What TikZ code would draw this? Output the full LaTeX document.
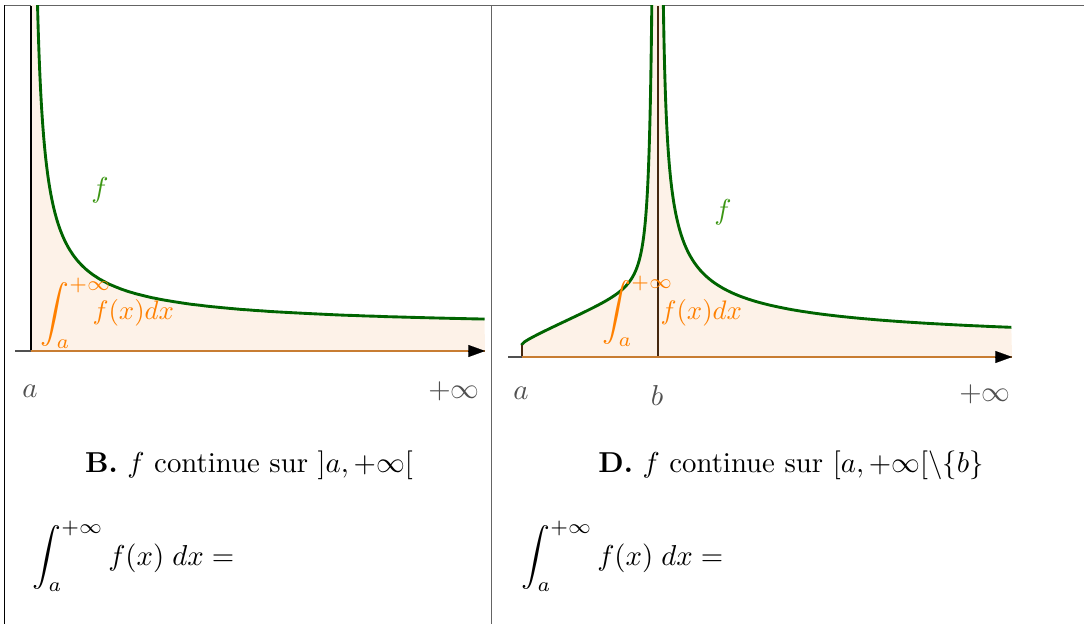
\documentclass[tikz,border=0pt]{standalone}
\usetikzlibrary{arrows.meta}
\definecolor{curvegreen}{RGB}{0,100,0}
\definecolor{labgreen}{RGB}{60,150,20}
\definecolor{fillor}{RGB}{253,242,232}
\definecolor{edgeor}{RGB}{200,125,50}
\definecolor{intor}{RGB}{255,128,0}
\definecolor{axgray}{RGB}{80,80,80}
\definecolor{framegray}{RGB}{100,100,100}
\definecolor{vbrown}{RGB}{70,40,15}
\tikzset{
  curve/.style={curvegreen,line width=1pt},
  axisline/.style={axgray,line width=0.4pt},
  edgeline/.style={edgeor,line width=0.5pt},
  tipstyle/.style={-{Triangle[length=5.8pt,width=4.2pt]},black},
  axlab/.style={text=axgray,inner sep=0pt},
  flab/.style={text=labgreen,inner sep=0pt},
  intlab/.style={text=intor,inner sep=0pt},
  framestyle/.style={line width=0.45pt}
}
\begin{document}
\begin{tikzpicture}[x=0.3472pt,y=-0.3472pt]
\useasboundingbox (0,0) rectangle (1084,624);
% ---------- frame
\coordinate (ftl) at (4,5.5);
\coordinate (ftr) at (1084,5.5);
\coordinate (fbl) at (4.5,624);
\coordinate (fmt) at (491.5,5.5);
\coordinate (fmb) at (491.5,624);
\draw[framestyle,framegray] (ftl) -- (ftr);
\draw[framestyle,black] (4.5,5.5) -- (fbl);
\draw[framestyle,framegray] (fmt) -- (fmb);
% ---------- left panel
\coordinate (La) at (31,351);
\coordinate (Ltop) at (31,6);
\coordinate (Lend) at (485,351);
\coordinate (Lstart) at (15,351);
\begin{scope}
\clip (0,6) rectangle (1084,624);
\fill[fillor] (31,351) -- (31,0) -- plot[domain=1.856:6.118,samples=140,variable=\t] ({31+exp(\t)},{331-1408*exp(-0.78*\t)}) -- (485,351) -- cycle;
\draw[curve] plot[domain=1.856:6.118,samples=140,variable=\t] ({31+exp(\t)},{331-1408*exp(-0.78*\t)});
\end{scope}
\draw[black,line width=0.4pt] (La) -- (Ltop);
\draw[axisline] (Lstart) -- (La);
\draw[edgeline] (La) -- (Lend);
\draw[tipstyle,line width=0.01pt] (468,351) -- (Lend);
\node[flab] (Lf) at (100,190) {$f$};
\node[intlab,anchor=west] (Lint) at (40,313) {$\displaystyle\int_a^{+\infty}$};
\node[intlab,anchor=west,scale=0.93] (Lfx) at (92,312.5) {$f(x)dx$};
\node[axlab] (Lla) at (30,391) {$a$};
\node[axlab] (Llinf) at (454,391) {$+\infty$};
\node[inner sep=0pt] (capB) at (249,465) {\textbf{B.} $f$ continue sur $]a,+\infty[$};
\node[inner sep=0pt,anchor=west] (intB) at (32,556) {$\displaystyle\int_a^{+\infty} f(x)\;dx =$};
% ---------- right panel
\coordinate (Ra) at (522,357);
\coordinate (Rac) at (522,345);
\coordinate (Rb) at (658,357);
\coordinate (Rbtop) at (658,6);
\coordinate (Rend) at (1012,357);
\coordinate (Rstart) at (508,357);
\begin{scope}
\clip (0,6) rectangle (1084,624);
\fill[fillor] (522,357) -- (Rac)
  -- plot[domain=4.9127:1.805,samples=170,variable=\t] ({658-exp(\t)},{345-sqrt(max(136-exp(\t),0))-0.37*(136-exp(\t))-(103.74/exp(\t))^2})
  -- plot[domain=1.02:5.862,samples=150,variable=\t] ({660.5+exp(\t)},{352-620*exp(-0.55*\t)})
  -- (1012,357) -- cycle;
\draw[curve] (Rac) -- plot[domain=4.9127:1.805,samples=170,variable=\t] ({658-exp(\t)},{345-sqrt(max(136-exp(\t),0))-0.37*(136-exp(\t))-(103.74/exp(\t))^2});
\draw[curve] plot[domain=1.02:5.862,samples=150,variable=\t] ({660.5+exp(\t)},{352-620*exp(-0.55*\t)});
\end{scope}
\draw[vbrown,line width=0.4pt] (Ra) -- (Rac);
\draw[vbrown,line width=0.4pt] (Rb) -- (Rbtop);
\draw[axisline] (Rstart) -- (Ra);
\draw[edgeline] (Ra) -- (Rend);
\draw[tipstyle,line width=0.01pt] (995,357) -- (Rend);
\node[flab] (Rf) at (723,212) {$f$};
\node[intlab,anchor=west] (Rint) at (602,311) {$\displaystyle\int_a^{+\infty}$};
\node[intlab,anchor=west,scale=0.93] (Rfx) at (660,313) {$f(x)dx$};
\node[axlab] (Rla) at (521,393) {$a$};
\node[axlab] (Rlb) at (657,396) {$b$};
\node[axlab] (Rlinf) at (985,394) {$+\infty$};
\node[inner sep=0pt] (capD) at (791,465) {\textbf{D.} $f$ continue sur $[a,+\infty[\backslash\{b\}$};
\node[inner sep=0pt,anchor=west] (intD) at (521,556) {$\displaystyle\int_a^{+\infty} f(x)\;dx =$};
\end{tikzpicture}
\end{document}
